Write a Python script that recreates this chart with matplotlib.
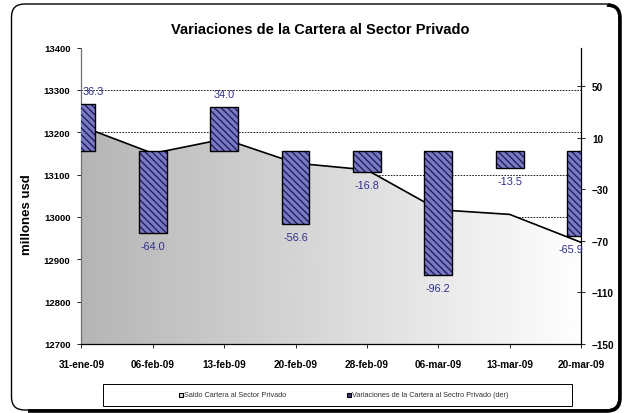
import numpy as np
import matplotlib
matplotlib.use('Agg')
import matplotlib.pyplot as plt
from matplotlib.patches import FancyBboxPatch, Rectangle
from matplotlib.path import Path
from matplotlib.transforms import IdentityTransform

fechas = ['31-ene-09', '06-feb-09', '13-feb-09', '20-feb-09',
          '28-feb-09', '06-mar-09', '13-mar-09', '20-mar-09']
saldo = [13214, 13150, 13184, 13127, 13111, 13017, 13006, 12940]
variacion = [36.3, -64.0, 34.0, -56.6, -16.8, -96.2, -13.5, -65.9]
ticks_izq = [12700, 12800, 12900, 13000, 13100, 13200, 13300, 13400]
ticks_der = [-150, -110, -70, -30, 10, 50]

plt.rcParams['font.family'] = ['Liberation Sans', 'DejaVu Sans']
plt.rcParams['hatch.linewidth'] = 1.0

W, H = 625, 414
fig = plt.figure(figsize=(W / 100, H / 100), dpi=100)
fig.patch.set_facecolor('white')

# axes box in pixels: x 81.5..581, y 48.5..345 (from top)
ax = fig.add_axes([81.5 / W, (H - 345) / H, 499.5 / W, 296.5 / H])
ax2 = ax.twinx()

x = np.arange(len(fechas))

# grid lines (behind the area)
for t in ticks_izq[1:-1]:
    ax.axhline(t, color='black', lw=0.6, ls=(0, (2, 1.5)), zorder=0.5)

# area with horizontal gradient
poly = ax.fill_between(x, saldo, 12700, facecolor='none', edgecolor='none')
grad = np.linspace(0.71, 0.995, 256).reshape(1, -1)
im = ax.imshow(grad, cmap='gray', vmin=0, vmax=1, aspect='auto',
               extent=[0, 7, 12700, 13400], zorder=1, interpolation='bicubic')
im.set_clip_path(poly.get_paths()[0], transform=ax.transData)
ax.plot(x, saldo, color='black', lw=1.2, zorder=2)

ax.set_xlim(0, 7)
ax.set_ylim(12700, 13400)
ax.set_yticks(ticks_izq)
ax.set_xticks(x)
ax.set_xticklabels(fechas, fontsize=7.2, fontweight='bold')
ax.tick_params(axis='y', direction='out', length=3, pad=5, labelsize=6.8, width=0.6)
ax.tick_params(axis='x', direction='out', length=3, pad=8, width=0.6)
for lb in ax.get_yticklabels():
    lb.set_fontweight('bold')
ax.spines['top'].set_visible(False)
ax.spines['right'].set_visible(False)
ax.spines['left'].set_color('#707070')
ax.spines['left'].set_linewidth(0.9)
ax.spines['bottom'].set_linewidth(0.9)

# bars on the right axis
ax2.bar(x, variacion, width=0.39, facecolor='#7a7ac4', edgecolor='#20205e',
        hatch='\\' * 5, linewidth=0, zorder=3)
ax2.bar(x, variacion, width=0.39, facecolor='none', edgecolor='black',
        linewidth=1.0, zorder=4)
ax2.set_ylim(-150, 80)
ax2.set_xlim(0, 7)
ax2.set_yticks(ticks_der)
ax2.tick_params(axis='y', direction='inout', length=6, pad=5, labelsize=7.2, width=0.6)
for lb in ax2.get_yticklabels():
    lb.set_fontweight('bold')
for s in ['top', 'left', 'bottom']:
    ax2.spines[s].set_visible(False)
ax2.spines['right'].set_linewidth(0.9)

for i, v in enumerate(variacion):
    dx = 0
    if i == 0:
        dx = 8.3
    elif i == len(variacion) - 1:
        dx = -7.2
    dy = 9.4 if v > 0 else -9.4
    ax2.annotate('%.1f' % v, xy=(i, v), xytext=(dx, dy), textcoords='offset points',
                 ha='center', va='center', fontsize=7.8, color='#2e2e8c',
                 zorder=5, annotation_clip=False)

# title and y label
fig.text(320 / W, (H - 30) / H, 'Variaciones de la Cartera al Sector Privado',
         ha='center', va='center', fontsize=10.5, fontweight='bold')
fig.text(27 / W, (H - 215) / H, 'millones usd', rotation=90, ha='center',
         va='center', fontsize=9.5, fontweight='bold')

# legend box
idt = IdentityTransform()
fig.patches.append(Rectangle((103, H - 407), 469, 22, transform=idt,
                             facecolor='white', edgecolor='black', lw=0.7))
fig.patches.append(Rectangle((179, H - 398), 4, 4, transform=idt,
                             facecolor='#d8d8d8', edgecolor='black', lw=0.8))
fig.text(184, H - 396, 'Saldo Cartera al Sector Privado', transform=idt,
         fontsize=5.3, va='center', ha='left', color='#333333')
fig.patches.append(Rectangle((347, H - 398), 4, 4, transform=idt,
                             facecolor='#3a3a7a', edgecolor='black', lw=0.8))
fig.text(352, H - 396, 'Variaciones de la Cartera al Sectro Privado (der)',
         transform=idt, fontsize=5.3, va='center', ha='left', color='#333333')

# outer rounded frame, thicker shadow on the right and bottom
sombra = FancyBboxPatch((12.5, 2), 607.5, 406, transform=idt,
                        boxstyle='round,pad=0,rounding_size=13',
                        facecolor='none', edgecolor='black', lw=2.6)
fig.patches.append(sombra)
zona = Path([(28, 0), (W, 0), (W, H), (610, H), (598, H - 26),
             (598, 24), (28, 24), (28, 0)])
sombra.set_clip_path(zona, idt)
fig.patches.append(FancyBboxPatch((11.5, 3), 607.5, 406, transform=idt,
                                  boxstyle='round,pad=0,rounding_size=13',
                                  facecolor='none', edgecolor='black', lw=1.0))

fig.savefig('out.png', dpi=100)
